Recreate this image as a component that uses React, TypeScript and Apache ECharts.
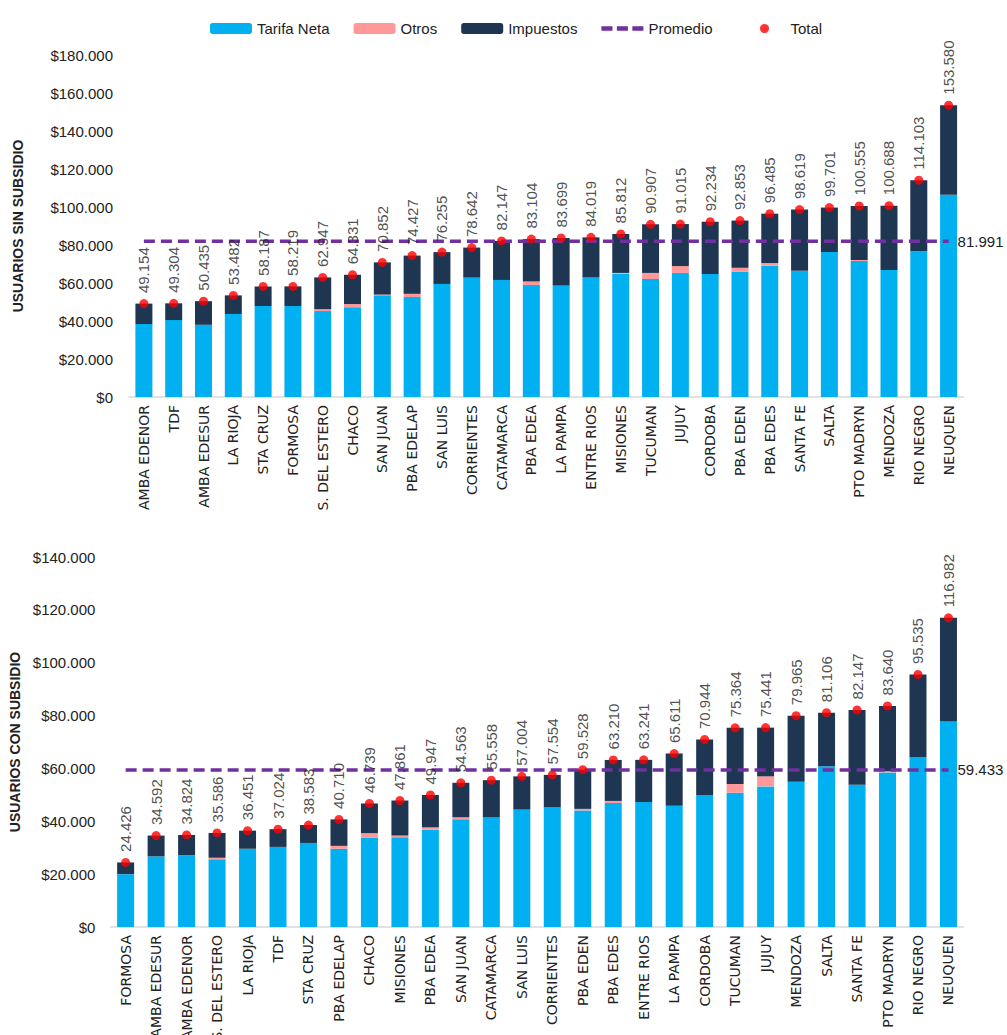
import React, { useEffect, useRef } from "react";
import * as echarts from "echarts";

const cats1 = ["AMBA EDENOR", "TDF", "AMBA EDESUR", "LA RIOJA", "STA CRUZ", "FORMOSA", "S. DEL ESTERO", "CHACO", "SAN JUAN", "PBA EDELAP", "SAN LUIS", "CORRIENTES", "CATAMARCA", "PBA EDEA", "LA PAMPA", "ENTRE RIOS", "MISIONES", "TUCUMAN", "JUJUY", "CORDOBA", "PBA EDEN", "PBA EDES", "SANTA FE", "SALTA", "PTO MADRYN", "MENDOZA", "RIO NEGRO", "NEUQUEN"];
const tarifa1 = [38400, 40500, 38000, 43700, 47900, 47900, 45200, 47300, 53500, 52600, 59500, 62800, 61600, 58900, 58600, 63100, 64900, 62100, 65200, 64700, 66100, 69100, 66500, 76300, 71600, 66800, 76700, 106500];
const otros1 = [0, 0, 0, 0, 0, 0, 1000, 1600, 400, 1700, 0, 0, 0, 1900, 0, 0, 400, 3200, 3700, 0, 1900, 1400, 0, 0, 500, 0, 0, 0];
const impuestos1 = [10754, 8804, 12435, 9782, 10287, 10319, 16747, 15431, 16952, 20127, 16755, 15842, 20547, 22304, 25099, 20919, 20512, 25607, 22115, 27534, 24853, 25985, 32119, 23401, 28455, 33888, 37403, 47080];
const total1 = [49154, 49304, 50435, 53482, 58187, 58219, 62947, 64331, 70852, 74427, 76255, 78642, 82147, 83104, 83699, 84019, 85812, 90907, 91015, 92234, 92853, 96485, 98619, 99701, 100555, 100688, 114103, 153580];
const promedio1 = 81991;

const cats2 = ["FORMOSA", "AMBA EDESUR", "AMBA EDENOR", "S. DEL ESTERO", "LA RIOJA", "TDF", "STA CRUZ", "PBA EDELAP", "CHACO", "MISIONES", "PBA EDEA", "SAN JUAN", "CATAMARCA", "SAN LUIS", "CORRIENTES", "PBA EDEN", "PBA EDES", "ENTRE RIOS", "LA PAMPA", "CORDOBA", "TUCUMAN", "JUJUY", "MENDOZA", "SALTA", "SANTA FE", "PTO MADRYN", "RIO NEGRO", "NEUQUEN"];
const tarifa2 = [20000, 26700, 27100, 25600, 29600, 30300, 31800, 29600, 33900, 34000, 36800, 40800, 41500, 44400, 45300, 44100, 46900, 47300, 45900, 49900, 50800, 53200, 55000, 60800, 53800, 58500, 64300, 77800];
const otros2 = [0, 0, 0, 600, 0, 0, 0, 1100, 1600, 600, 900, 700, 0, 0, 0, 600, 800, 0, 0, 0, 3300, 3800, 0, 0, 0, 400, 0, 0];
const impuestos2 = [4426, 7892, 7724, 9386, 6851, 6724, 6783, 10010, 11239, 13261, 12247, 13063, 14058, 12604, 12254, 14828, 15510, 15941, 19711, 21044, 21264, 18441, 24965, 20306, 28347, 24740, 31235, 39182];
const total2 = [24426, 34592, 34824, 35586, 36451, 37024, 38583, 40710, 46739, 47861, 49947, 54563, 55558, 57004, 57554, 59528, 63210, 63241, 65611, 70944, 75364, 75441, 79965, 81106, 82147, 83640, 95535, 116982];
const promedio2 = 59433;

const C_TARIFA = "#00B0F0";
const C_OTROS = "#FF9999";
const C_IMP = "#1F3653";
const C_PROM = "#7030A0";
const C_TOTAL = "#FF0000";
const FONT = "Liberation Sans";
const DASH_ICON = "path://M0,0h10v4h-10z M14,0h10v4h-10z M28,0h10v4h-10z";

const fmt = (v: number) =>
  Math.round(v).toString().replace(/\B(?=(\d{3})+(?!\d))/g, ".");

function buildSeries(idx: number, tarifa: number[], otros: number[], imp: number[], total: number[], prom: number, n: number) {
  const stack = "s" + idx;
  const promData = Array.from({ length: n }, () => prom);
  return [
    { name: "Tarifa Neta", type: "bar", stack, xAxisIndex: idx, yAxisIndex: idx, barWidth: 17, data: tarifa, itemStyle: { color: C_TARIFA } },
    { name: "Otros", type: "bar", stack, xAxisIndex: idx, yAxisIndex: idx, barWidth: 17, data: otros, itemStyle: { color: C_OTROS } },
    { name: "Impuestos", type: "bar", stack, xAxisIndex: idx, yAxisIndex: idx, barWidth: 17, data: imp, itemStyle: { color: C_IMP } },
    {
      name: "Promedio",
      type: "line",
      xAxisIndex: idx,
      yAxisIndex: idx,
      data: promData,
      symbol: "none",
      z: 5,
      lineStyle: { color: C_PROM, width: 3.5, type: [11, 6] },
      itemStyle: { color: C_PROM },
      endLabel: {
        show: true,
        distance: 9,
        formatter: () => fmt(prom),
        fontSize: 15,
        fontFamily: FONT,
        color: "#222",
      },
    },
    {
      name: "Total",
      type: "scatter",
      xAxisIndex: idx,
      yAxisIndex: idx,
      data: total,
      symbolSize: 9,
      z: 6,
      itemStyle: { color: C_TOTAL },
      label: {
        show: true,
        position: "top",
        rotate: 90,
        align: "left",
        verticalAlign: "middle",
        distance: 6,
        formatter: (p: any) => fmt(p.value),
        fontSize: 15,
        fontFamily: FONT,
        color: "#222",
      },
    },
  ];
}

export default function App() {
  const ref = useRef<HTMLDivElement>(null);
  useEffect(() => {
    document.body.style.margin = "0";
    const chart = echarts.init(ref.current!, undefined, { renderer: "svg" });
    const xAxisCommon = {
      type: "category",
      axisTick: { show: false },
      axisLine: { lineStyle: { color: "#D9D9D9", width: 1.5 } },
      axisLabel: { rotate: 90, interval: 0, fontSize: 14, fontFamily: "DejaVu Sans", color: "#222", margin: 8 },
    };
    const yAxisCommon = {
      type: "value",
      min: 0,
      interval: 20000,
      splitLine: { show: false },
      axisLine: { show: false },
      axisTick: { show: false },
      nameLocation: "middle",
      nameRotate: 90,
      nameTextStyle: { fontWeight: "bold", fontSize: 14, fontFamily: FONT, color: "#222" },
    };
    chart.setOption({
      animation: false,
      backgroundColor: "#fff",
      textStyle: { fontFamily: FONT },
      legend: [
        {
          data: [
            { name: "Tarifa Neta" },
            { name: "Otros" },
            { name: "Impuestos" },
            { name: "Promedio", icon: DASH_ICON },
          ],
          left: 205,
          top: 16,
          itemWidth: 42,
          itemHeight: 11,
          itemGap: 24,
          textStyle: { fontSize: 15, fontFamily: FONT, color: "#222" },
        },
        {
          data: ["Total"],
          left: 755,
          top: 16,
          itemWidth: 42,
          itemHeight: 9,
          textStyle: { fontSize: 15, fontFamily: FONT, color: "#222" },
        },
      ],
      grid: [
        { left: 129, right: 43.5, top: 55, height: 342, outerBoundsMode: "none" },
        { left: 110.4, right: 43.3, top: 557, height: 370, outerBoundsMode: "none" },
      ],
      xAxis: [
        { ...xAxisCommon, gridIndex: 0, data: cats1 },
        { ...xAxisCommon, gridIndex: 1, data: cats2 },
      ],
      yAxis: [
        {
          ...yAxisCommon,
          gridIndex: 0,
          max: 180000,
          name: "USUARIOS SIN SUBSIDIO",
          nameGap: 104,
          axisLabel: { formatter: (v: number) => "$" + fmt(v), fontSize: 15, fontFamily: FONT, color: "#222", margin: 16 },
        },
        {
          ...yAxisCommon,
          gridIndex: 1,
          max: 140000,
          name: "USUARIOS CON SUBSIDIO",
          nameGap: 86,
          axisLabel: { formatter: (v: number) => "$" + fmt(v), fontSize: 15, fontFamily: FONT, color: "#222", margin: 15 },
        },
      ],
      series: [
        ...buildSeries(0, tarifa1, otros1, impuestos1, total1, promedio1, cats1.length),
        ...buildSeries(1, tarifa2, otros2, impuestos2, total2, promedio2, cats2.length),
      ],
    });
    return () => chart.dispose();
  }, []);
  return <div ref={ref} style={{ width: 1007, height: 1035 }} />;
}
